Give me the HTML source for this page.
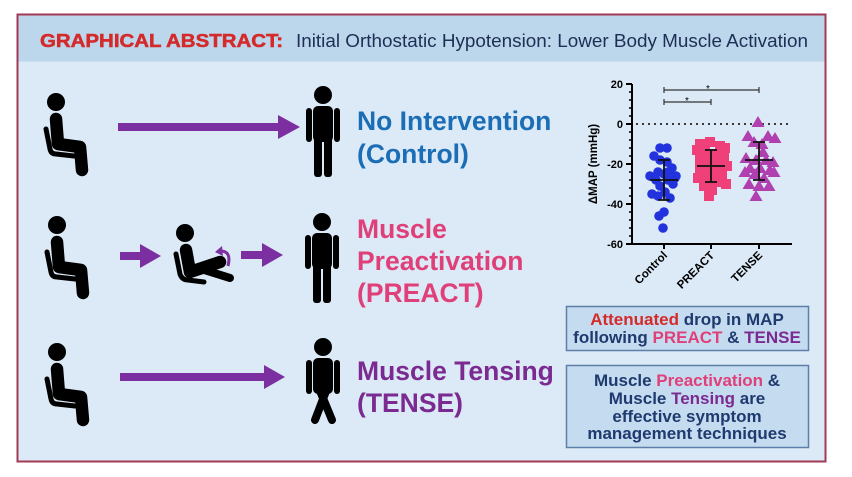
<!DOCTYPE html>
<html><head><meta charset="utf-8"><style>
html,body{margin:0;padding:0;background:#fff;}
svg{display:block;font-family:"Liberation Sans",sans-serif;}
</style></head><body>
<svg width="852" height="477" viewBox="0 0 852 477" xmlns="http://www.w3.org/2000/svg">
<defs>
<g id="seat">
<circle cx="0" cy="0" r="9" fill="#000"/>
<path d="M0,17 L2,42 L24,45 L26,68" stroke="#000" stroke-width="12.5" fill="none" stroke-linecap="round" stroke-linejoin="round"/>
<path d="M-10,27 L-6,47 Q-5,52 0,52 L18,54" stroke="#000" stroke-width="5" fill="none" stroke-linecap="round"/>
</g>
<g id="stand">
<circle cx="0" cy="0" r="9" fill="#000"/>
<rect x="-10" y="11" width="20" height="36" rx="5" fill="#000"/>
<rect x="-17" y="13" width="6" height="34" rx="3" fill="#000"/>
<rect x="11" y="13" width="6" height="34" rx="3" fill="#000"/>
</g>
<path id="tri" d="M0,-6 L6.5,5 L-6.5,5Z" fill="#b040b0"/>
</defs>
<rect x="0" y="0" width="852" height="477" fill="#fff"/>
<rect x="17.5" y="14.5" width="808" height="447" fill="#dbeaf6" stroke="#a33a55" stroke-width="2"/>
<rect x="18.5" y="15.5" width="806" height="46" fill="#bcd6ec"/>
<text x="40" y="47" font-size="18" font-weight="bold" fill="#d42a2a" stroke="#d42a2a" stroke-width="0.5" textLength="243" lengthAdjust="spacingAndGlyphs">GRAPHICAL ABSTRACT:</text>
<text x="296" y="47" font-size="18" fill="#1d2f55" textLength="512" lengthAdjust="spacingAndGlyphs">Initial Orthostatic Hypotension: Lower Body Muscle Activation</text>

<!-- row 1 -->
<use href="#seat" x="56" y="102"/>
<path d="M118,123 H278 V115 L300,127 L278,139 V131 H118Z" fill="#7b2fa0"/>
<use href="#stand" x="323" y="95"/>
<rect x="314" y="136" width="8" height="41" rx="3" fill="#000"/>
<rect x="324" y="136" width="8" height="41" rx="3" fill="#000"/>
<text x="357" y="130" font-size="26.5" font-weight="bold" fill="#1b6db5">No Intervention</text>
<text x="357" y="163" font-size="26.5" font-weight="bold" fill="#1b6db5">(Control)</text>

<!-- row 2 -->
<use href="#seat" x="57" y="225"/>
<path d="M120,252 H140 V244 L161,256 L140,268 V260 H120Z" fill="#7b2fa0"/>
<g>
<circle cx="185" cy="233" r="9" fill="#000"/>
<path d="M186,250 L190,272 L220,262" stroke="#000" stroke-width="12.5" fill="none" stroke-linecap="round" stroke-linejoin="round"/>
<path d="M198,268 L230,278" stroke="#000" stroke-width="8" fill="none" stroke-linecap="round"/>
<path d="M176,254 L180,274 Q182,280 188,280 L204,282" stroke="#000" stroke-width="5" fill="none" stroke-linecap="round"/>
<path d="M219,251 Q232,250 228,266" stroke="#7b2fa0" stroke-width="3" fill="none"/>
<path d="M222,246 L215,252 L223,256Z" fill="#7b2fa0"/>
</g>
<path d="M241,251 H262 V243 L283,255 L262,267 V259 H241Z" fill="#7b2fa0"/>
<use href="#stand" x="322" y="222"/>
<rect x="313" y="263" width="8" height="40" rx="3" fill="#000"/>
<rect x="323" y="263" width="8" height="40" rx="3" fill="#000"/>
<text x="357" y="238" font-size="26.5" font-weight="bold" fill="#e0407a">Muscle</text>
<text x="357" y="270" font-size="26.5" font-weight="bold" fill="#e0407a">Preactivation</text>
<text x="357" y="302" font-size="26.5" font-weight="bold" fill="#e0407a">(PREACT)</text>

<!-- row 3 -->
<use href="#seat" x="57" y="352"/>
<path d="M120,373 H264 V365 L285,377 L264,389 V381 H120Z" fill="#7b2fa0"/>
<use href="#stand" x="323" y="347"/>
<path d="M318,386 L332,420 M328,386 L315,420" stroke="#000" stroke-width="8" stroke-linecap="round"/>
<text x="357" y="380" font-size="26.5" font-weight="bold" fill="#7a2a90">Muscle Tensing</text>
<text x="357" y="412" font-size="26.5" font-weight="bold" fill="#7a2a90">(TENSE)</text>

<!-- chart -->
<g stroke="#000" stroke-width="2" fill="none">
<path d="M632,84 V244 H792"/>
<path d="M626,84 H632 M626,124 H632 M626,164 H632 M626,204 H632 M626,244 H632"/>
<path d="M629,92 H632 M629,100 H632 M629,108 H632 M629,116 H632 M629,132 H632 M629,140 H632 M629,148 H632 M629,156 H632 M629,172 H632 M629,180 H632 M629,188 H632 M629,196 H632 M629,212 H632 M629,220 H632 M629,228 H632 M629,236 H632" stroke-width="1.5"/>
<path d="M664,244 V249 M711,244 V249 M759,244 V249"/>
</g>
<path d="M636,124 H792" stroke="#000" stroke-width="1.6" stroke-dasharray="2,4"/>
<g stroke="#333" stroke-width="1.2" fill="none">
<path d="M664,90 H759 M664,87 V93 M759,87 V93"/>
<path d="M664,102 H711 M664,99 V105 M711,99 V105"/>
</g>
<text x="708" y="92" font-size="10" text-anchor="middle">*</text>
<text x="687" y="104" font-size="10" text-anchor="middle">*</text>
<g font-size="11" font-weight="bold" text-anchor="end">
<text x="623" y="88">20</text><text x="623" y="128">0</text><text x="623" y="168">-20</text><text x="623" y="208">-40</text><text x="623" y="248">-60</text>
</g>
<text transform="translate(597,164) rotate(-90)" font-size="11.5" font-weight="bold" text-anchor="middle">ΔMAP (mmHg)</text>
<g font-size="11.5" font-weight="bold" text-anchor="end">
<text transform="translate(668,256) rotate(-45)">Control</text>
<text transform="translate(715,256) rotate(-45)">PREACT</text>
<text transform="translate(763,256) rotate(-45)">TENSE</text>
</g>
<g fill="#2233dd">
<circle cx="660" cy="148" r="4.8"/><circle cx="667" cy="148" r="4.8"/><circle cx="654" cy="156" r="4.8"/><circle cx="660" cy="160" r="4.8"/><circle cx="667" cy="162" r="4.8"/><circle cx="672" cy="168" r="4.8"/><circle cx="658" cy="172" r="4.8"/><circle cx="664" cy="174" r="4.8"/><circle cx="676" cy="176" r="4.8"/><circle cx="650" cy="176" r="4.8"/><circle cx="656" cy="180" r="4.8"/><circle cx="668" cy="180" r="4.8"/><circle cx="673" cy="184" r="4.8"/><circle cx="660" cy="186" r="4.8"/><circle cx="665" cy="192" r="4.8"/><circle cx="652" cy="194" r="4.8"/><circle cx="658" cy="196" r="4.8"/><circle cx="670" cy="198" r="4.8"/><circle cx="664" cy="212" r="4.8"/><circle cx="659" cy="216" r="4.8"/><circle cx="663" cy="228" r="4.8"/><circle cx="675" cy="178" r="4.8"/><circle cx="668" cy="172" r="4.8"/>
</g>
<g fill="#f0407a">
<rect x="695" y="139" width="10" height="10"/><rect x="705" y="137" width="10" height="10"/><rect x="715" y="141" width="10" height="10"/><rect x="720" y="143" width="10" height="10"/><rect x="692" y="145" width="10" height="10"/><rect x="700" y="147" width="10" height="10"/><rect x="710" y="149" width="10" height="10"/><rect x="719" y="153" width="10" height="10"/><rect x="695" y="155" width="10" height="10"/><rect x="705" y="157" width="10" height="10"/><rect x="714" y="159" width="10" height="10"/><rect x="722" y="161" width="10" height="10"/><rect x="698" y="165" width="10" height="10"/><rect x="708" y="167" width="10" height="10"/><rect x="717" y="169" width="10" height="10"/><rect x="693" y="173" width="10" height="10"/><rect x="703" y="175" width="10" height="10"/><rect x="712" y="177" width="10" height="10"/><rect x="721" y="179" width="10" height="10"/><rect x="699" y="181" width="10" height="10"/><rect x="707" y="185" width="10" height="10"/><rect x="704" y="191" width="10" height="10"/><rect x="695" y="163" width="10" height="10"/><rect x="716" y="175" width="10" height="10"/>
</g>
<g>
<use href="#tri" x="758" y="122"/><use href="#tri" x="748" y="136"/><use href="#tri" x="768" y="136"/><use href="#tri" x="775" y="138"/><use href="#tri" x="754" y="142"/><use href="#tri" x="762" y="144"/><use href="#tri" x="746" y="158"/><use href="#tri" x="756" y="160"/><use href="#tri" x="766" y="160"/><use href="#tri" x="773" y="162"/><use href="#tri" x="750" y="168"/><use href="#tri" x="760" y="168"/><use href="#tri" x="770" y="170"/><use href="#tri" x="745" y="172"/><use href="#tri" x="755" y="174"/><use href="#tri" x="764" y="178"/><use href="#tri" x="774" y="172"/><use href="#tri" x="749" y="184"/><use href="#tri" x="759" y="186"/><use href="#tri" x="769" y="186"/><use href="#tri" x="756" y="196"/><use href="#tri" x="763" y="152"/>
</g>
<g stroke="#111" stroke-width="1.8">
<path d="M650,180 H678 M664,160 V200 M658,160 H670 M658,200 H670"/>
<path d="M697,166 H725 M711,150 V182 M705,150 H717 M705,182 H717"/>
<path d="M745,160 H773 M759,142 V180 M753,142 H765 M753,180 H765"/>
</g>

<!-- boxes -->
<rect x="566.5" y="306.5" width="242" height="44" fill="#c5dcf0" stroke="#5d7fa8" stroke-width="1.5"/>
<text x="687" y="325" font-size="17" font-weight="bold" text-anchor="middle" fill="#1f3a6e"><tspan fill="#d42a2a">Attenuated</tspan> drop in MAP</text>
<text x="687" y="343" font-size="17" font-weight="bold" text-anchor="middle" fill="#1f3a6e">following <tspan fill="#e0407a">PREACT</tspan> &amp; <tspan fill="#7a2a90">TENSE</tspan></text>
<rect x="566.5" y="365.5" width="242" height="82" fill="#c5dcf0" stroke="#5d7fa8" stroke-width="1.5"/>
<text x="687" y="386" font-size="17" font-weight="bold" text-anchor="middle" fill="#1f3a6e">Muscle <tspan fill="#e0407a">Preactivation</tspan> &amp;</text>
<text x="687" y="404" font-size="17" font-weight="bold" text-anchor="middle" fill="#1f3a6e">Muscle <tspan fill="#7a2a90">Tensing</tspan> are</text>
<text x="687" y="422" font-size="17" font-weight="bold" text-anchor="middle" fill="#1f3a6e">effective symptom</text>
<text x="687" y="439" font-size="17" font-weight="bold" text-anchor="middle" fill="#1f3a6e">management techniques</text>
</svg>
</body></html>
